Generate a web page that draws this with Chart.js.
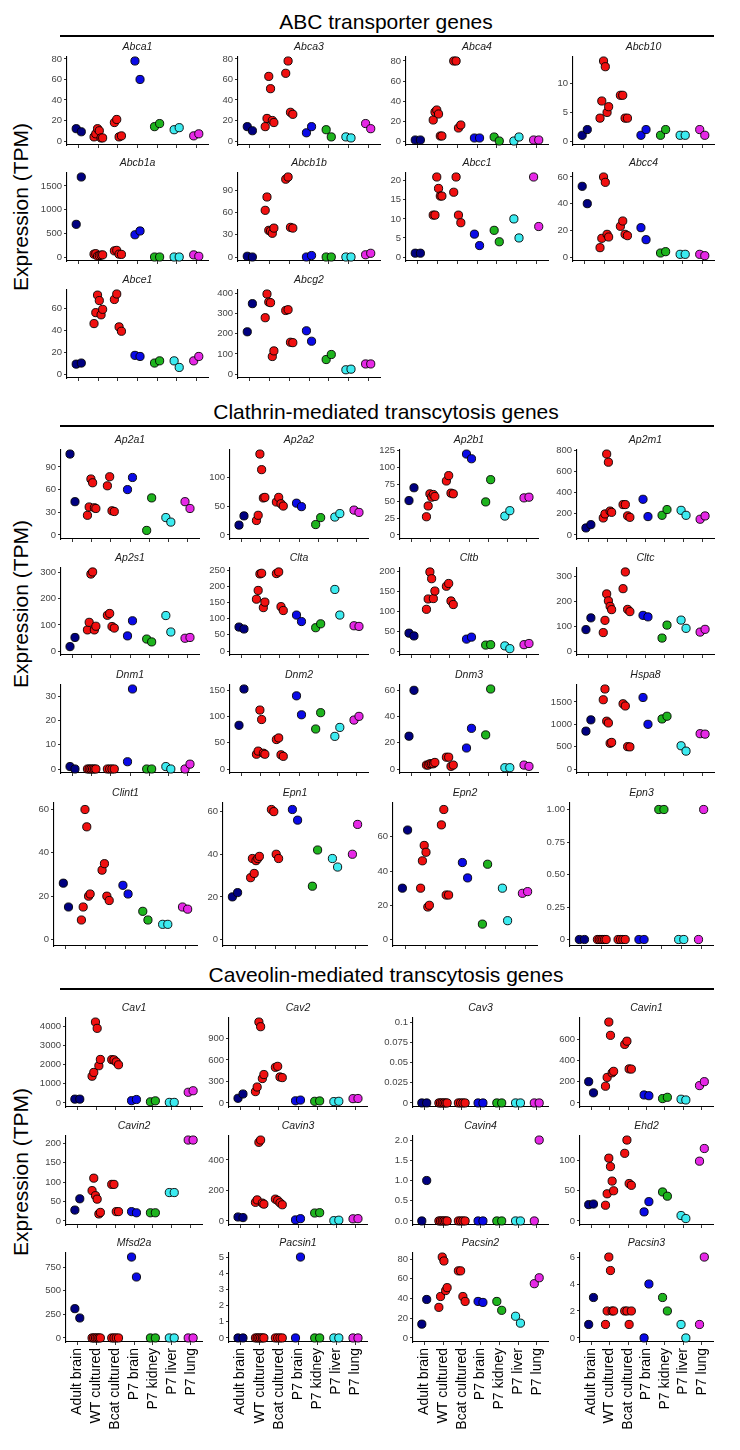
<!DOCTYPE html>
<html>
<head>
<meta charset="utf-8">
<script src="https://cdn.jsdelivr.net/npm/chart.js"></script>
<style>
  body { margin: 0; background: #fff; }
  #page { position: relative; width: 740px; height: 1450px; overflow: hidden; background: #fff;
          font-family: 'Liberation Sans', Arial, sans-serif; color: #000; }
  .sec-title { position: absolute; left: 86px; width: 600px; text-align: center; font-size: 21px; line-height: 24px; }
  .sec-line { position: absolute; left: 60px; width: 654px; height: 2px; background: #000; }
  .ylab { position: absolute; width: 240px; text-align: center; font-size: 21px; line-height: 24px; transform: rotate(-90deg); }
  canvas { position: absolute; }
</style>
</head>
<body>
<div id="page"></div>

<script>
	const groups = ['Adult brain', 'WT cultured', 'Bcat cultured', 'P7 brain', 'P7 kidney', 'P7 liver', 'P7 lung']
	const groupColors = ['#000080', '#F01010', '#F01010', '#0A0AE6', '#1EB41E', '#3CEBF0', '#E628E6']

	// ABC transporter genes (TPM per sample, grouped as in `groups`)
	const abca1 = [[12, 9], [4, 7, 12, 10, 3, 3], [18, 21, 4, 5], [78, 60], [14, 17], [11, 13], [5, 7]]
	const abca3 = [[14, 10], [14, 22, 63, 51, 20, 18], [66, 78, 28, 26], [8, 14], [11, 4], [4, 3], [17, 12]]
	const abca4 = [[1, 1], [21, 29, 31, 27, 5, 5], [80, 80, 13, 16], [3, 3], [4, 0], [0, 4], [1, 1]]
	const abcb10 = [[1, 2], [4, 7, 14, 13, 5, 6], [8, 8, 4, 4], [1, 2], [1, 2], [1, 1], [2, 1]]
	const abcb1a = [[690, 1690], [60, 70, 20, 30, 40, 45], [130, 140, 60, 55], [470, 550], [0, 0], [0, 0], [45, 15]]
	const abcb1b = [[1, 0], [63, 81, 36, 35, 32, 39], [105, 108, 40, 39], [0, 2], [0, 0], [0, 0], [3, 5]]
	const abcc1 = [[1, 1], [11, 11, 21, 18, 16, 16], [17, 21, 11, 9], [6, 3], [7, 4], [10, 5], [21, 8]]
	const abcc4 = [[53, 40], [7, 14, 60, 56, 17, 15], [23, 27, 17, 16], [22, 13], [3, 4], [2, 2], [2, 1]]
	const abce1 = [[9, 10], [46, 56, 72, 67, 54, 59], [68, 73, 43, 39], [17, 16], [10, 12], [12, 6], [12, 16]]
	const abcg2 = [[210, 350], [280, 398, 358, 355, 87, 115], [316, 320, 158, 156], [215, 163], [72, 97], [21, 24], [50, 50]]

	// Clathrin-mediated transcytosis genes
	const ap2a1 = [[107, 44], [26, 37, 74, 69, 36, 35], [65, 77, 32, 31], [60, 76], [6, 49], [23, 17], [44, 35]]
	const ap2a2 = [[17, 33], [25, 34, 140, 113, 64, 65], [57, 65, 54, 50], [55, 49], [18, 30], [31, 37], [43, 39]]
	const ap2b1 = [[51, 70], [27, 43, 61, 56, 60, 57], [80, 88, 62, 61], [120, 113], [49, 82], [28, 36], [55, 56]]
	const ap2m1 = [[66, 97], [160, 198, 762, 685, 225, 213], [286, 286, 180, 166], [336, 173], [185, 239], [232, 185], [148, 179]]
	const ap2s1 = [[17, 52], [81, 110, 295, 303, 81, 95], [137, 144, 94, 88], [58, 116], [46, 35], [136, 73], [49, 52]]
	const clta = [[74, 68], [160, 187, 238, 240, 134, 151], [239, 244, 137, 125], [111, 91], [72, 84], [190, 111], [78, 76]]
	const cltb = [[45, 38], [105, 131, 199, 182, 132, 151], [163, 170, 126, 117], [30, 35], [15, 16], [13, 6], [16, 19]]
	const cltc = [[86, 133], [74, 123, 229, 201, 179, 166], [250, 317, 167, 158], [143, 137], [52, 104], [124, 91], [76, 87]]
	const dnm1 = [[1, 0], [0, 0, 0, 0, 0, 0], [0, 0, 0, 0], [3, 33], [0, 0], [1, 0], [0, 2]]
	const dnm2 = [[83, 152], [28, 34, 112, 94, 30, 28], [56, 59, 27, 24], [139, 103], [76, 107], [62, 79], [93, 100]]
	const dnm3 = [[25, 60], [3, 3, 4, 4, 4, 5], [9, 9, 2, 3], [16, 31], [26, 61], [1, 1], [3, 2]]
	const hspa8 = [[847, 1100], [1550, 1790, 1070, 1030, 575, 595], [1460, 1410, 500, 495], [1600, 1000], [1120, 1180], [520, 400], [790, 780]]
	const clint1 = [[26, 15], [9, 15, 60, 52, 20, 21], [32, 35, 20, 18], [25, 21], [13, 9], [7, 7], [15, 14]]
	const epn1 = [[20, 22], [29, 38, 31, 37, 38, 39], [61, 60, 40, 38], [61, 56], [25, 42], [38, 34], [40, 54]]
	const epn2 = [[30, 64], [30, 46, 55, 51, 19, 20], [67, 76, 26, 26], [45, 36], [9, 44], [30, 11], [27, 28]]
	const epn3 = [[0, 0], [0, 0, 0, 0, 0, 0], [0, 0, 0, 0], [0, 0], [1, 1], [0, 0], [0, 1]]

	// Caveolin-mediated transcytosis genes
	const cav1 = [[200, 200], [1400, 1600, 4240, 3910, 1950, 2280], [2270, 2260, 2150, 2000], [120, 180], [60, 110], [30, 30], [560, 640]]
	const cav2 = [[65, 125], [158, 222, 1127, 1062, 340, 396], [496, 510, 362, 353], [30, 40], [23, 28], [19, 23], [60, 62]]
	const cav3 = [[0, 0], [0, 0, 0, 0, 0, 0], [0, 0, 0, 0], [0, 0], [0, 0], [0, 0], [0, 0]]
	const cavin1 = [[200, 95], [157, 240, 760, 635, 283, 297], [550, 580, 320, 318], [75, 68], [41, 53], [35, 28], [163, 200]]
	const cavin2 = [[28, 57], [78, 110, 65, 56, 18, 22], [94, 94, 24, 24], [24, 21], [21, 21], [73, 73], [208, 208]]
	const cavin3 = [[26, 22], [122, 138, 515, 530, 117, 110], [143, 134, 119, 106], [7, 15], [52, 54], [2, 5], [14, 15]]
	const cavin4 = [[0, 1], [0, 0, 0, 0, 0, 0], [0, 0, 0, 0], [0, 0], [0, 0], [0, 0], [0, 2]]
	const ehd2 = [[27, 28], [26, 45, 104, 90, 66, 50], [112, 134, 62, 59], [15, 32], [48, 41], [9, 4], [99, 120]]
	const mfsd2a = [[311, 212], [0, 0, 0, 0, 0, 0], [0, 0, 0, 0], [859, 647], [0, 0], [0, 0], [0, 0]]
	const pacsin1 = [[0, 0], [0, 0, 0, 0, 0, 0], [0, 0, 0, 0], [0, 5], [0, 0], [0, 0], [0, 0]]
	const pacsin2 = [[14, 39], [31, 42, 82, 78, 48, 51], [68, 68, 42, 37], [37, 36], [37, 28], [22, 15], [55, 61]]
	const pacsin3 = [[1, 3], [1, 2, 6, 5, 2, 2], [2, 2, 1, 2], [0, 4], [3, 2], [1, 0], [1, 6]]

	// y tick labels per panel
	const abca1Ticks = ['0', '20', '40', '60', '80']
	const abca3Ticks = ['0', '20', '40', '60', '80']
	const abca4Ticks = ['0', '20', '40', '60', '80']
	const abcb10Ticks = ['0', '5', '10']
	const abcb1aTicks = ['0', '500', '1000', '1500']
	const abcb1bTicks = ['0', '30', '60', '90']
	const abcc1Ticks = ['0', '5', '10', '15', '20']
	const abcc4Ticks = ['0', '20', '40', '60']
	const abce1Ticks = ['0', '20', '40', '60']
	const abcg2Ticks = ['0', '100', '200', '300', '400']
	const ap2a1Ticks = ['0', '30', '60', '90']
	const ap2a2Ticks = ['0', '50', '100']
	const ap2b1Ticks = ['0', '25', '50', '75', '100', '125']
	const ap2m1Ticks = ['0', '200', '400', '600', '800']
	const ap2s1Ticks = ['0', '100', '200', '300']
	const cltaTicks = ['0', '50', '100', '150', '200', '250']
	const cltbTicks = ['0', '50', '100', '150', '200']
	const cltcTicks = ['0', '100', '200', '300']
	const dnm1Ticks = ['0', '10', '20', '30']
	const dnm2Ticks = ['0', '50', '100', '150']
	const dnm3Ticks = ['0', '20', '40', '60']
	const hspa8Ticks = ['0', '500', '1000', '1500']
	const clint1Ticks = ['0', '20', '40', '60']
	const epn1Ticks = ['0', '20', '40', '60']
	const epn2Ticks = ['0', '20', '40', '60']
	const epn3Ticks = ['0', '0.25', '0.50', '0.75', '1.00']
	const cav1Ticks = ['0', '1000', '2000', '3000', '4000']
	const cav2Ticks = ['0', '300', '600', '900']
	const cav3Ticks = ['0', '0.025', '0.05', '0.075', '0.1']
	const cavin1Ticks = ['0', '200', '400', '600']
	const cavin2Ticks = ['0', '50', '100', '150', '200']
	const cavin3Ticks = ['0', '200', '400']
	const cavin4Ticks = ['0.0', '0.5', '1.0', '1.5', '2.0']
	const ehd2Ticks = ['0', '50', '100']
	const mfsd2aTicks = ['0', '250', '500', '750']
	const pacsin1Ticks = ['0', '1', '2', '3', '4', '5']
	const pacsin2Ticks = ['0', '20', '40', '60', '80']
	const pacsin3Ticks = ['0', '2', '4', '6']

	const sections = [
		{
			title: 'ABC transporter genes', titleY: 21.7, lineY: 35, labelY: 207,
			genes: [['Abca1', abca1, abca1Ticks], ['Abca3', abca3, abca3Ticks], ['Abca4', abca4, abca4Ticks], ['Abcb10', abcb10, abcb10Ticks],
				['Abcb1a', abcb1a, abcb1aTicks], ['Abcb1b', abcb1b, abcb1bTicks], ['Abcc1', abcc1, abcc1Ticks], ['Abcc4', abcc4, abcc4Ticks],
				['Abce1', abce1, abce1Ticks], ['Abcg2', abcg2, abcg2Ticks]],
			rowTop: [56.7, 172.7, 290], rowBottom: [144.3, 260.7, 377.7],
			colLeft: [[66.7, 238, 406, 572.7], [66.7, 238, 406, 572.7], [66.7, 238, 406, 572.7]],
			colRight: [[207.3, 380, 547.7, 713.3], [207.3, 380, 547.7, 713.3], [207.3, 380, 547.7, 713.3]],
			labelRow: -1
		},
		{
			title: 'Clathrin-mediated transcytosis genes', titleY: 411.7, lineY: 424.5, labelY: 604,
			genes: [['Ap2a1', ap2a1, ap2a1Ticks], ['Ap2a2', ap2a2, ap2a2Ticks], ['Ap2b1', ap2b1, ap2b1Ticks], ['Ap2m1', ap2m1, ap2m1Ticks],
				['Ap2s1', ap2s1, ap2s1Ticks], ['Clta', clta, cltaTicks], ['Cltb', cltb, cltbTicks], ['Cltc', cltc, cltcTicks],
				['Dnm1', dnm1, dnm1Ticks], ['Dnm2', dnm2, dnm2Ticks], ['Dnm3', dnm3, dnm3Ticks], ['Hspa8', hspa8, hspa8Ticks],
				['Clint1', clint1, clint1Ticks], ['Epn1', epn1, epn1Ticks], ['Epn2', epn2, epn2Ticks], ['Epn3', epn3, epn3Ticks]],
			rowTop: [450, 568.3, 685, 803.3], rowBottom: [539, 655.7, 773.3, 946.7],
			colLeft: [[60.7, 230, 400, 576.7], [60.7, 230, 400, 576.7], [60.7, 230, 400, 576.7], [54, 222.7, 392.7, 570]],
			colRight: [[199, 368.3, 538.3, 713.3], [199, 368.3, 538.3, 713.3], [199, 368.3, 538.3, 713.3], [197.3, 366.7, 536.7, 713.3]],
			labelRow: -1
		},
		{
			title: 'Caveolin-mediated transcytosis genes', titleY: 975, lineY: 987.5, labelY: 1172,
			genes: [['Cav1', cav1, cav1Ticks], ['Cav2', cav2, cav2Ticks], ['Cav3', cav3, cav3Ticks], ['Cavin1', cavin1, cavin1Ticks],
				['Cavin2', cavin2, cavin2Ticks], ['Cavin3', cavin3, cavin3Ticks], ['Cavin4', cavin4, cavin4Ticks], ['Ehd2', ehd2, ehd2Ticks],
				['Mfsd2a', mfsd2a, mfsd2aTicks], ['Pacsin1', pacsin1, pacsin1Ticks], ['Pacsin2', pacsin2, pacsin2Ticks], ['Pacsin3', pacsin3, pacsin3Ticks]],
			rowTop: [1018.3, 1135.5, 1252.5], rowBottom: [1107.3, 1224.5, 1341.7],
			colLeft: [[66.3, 229, 413.3, 580], [66.3, 229, 413.3, 580], [66.3, 229, 413.3, 580]],
			colRight: [[202, 367, 548.3, 713.3], [202, 367, 548.3, 713.3], [202, 367, 548.3, 713.3]],
			labelRow: 2
		}
	]

	const fontFamily = "'Liberation Sans', Arial, sans-serif"
	// horizontal spread of the points inside each group, by group size
	const jitter = { 2: [-0.13, 0.13], 4: [-0.18, -0.06, 0.06, 0.18], 6: [-0.22, -0.13, -0.04, 0.05, 0.14, 0.22] }
	const YW = 44, TOP = 18, PADR = 8
	const page = document.getElementById('page')

	function addText(cls, text, css) {
		const d = document.createElement('div')
		d.className = cls
		d.textContent = text
		d.style.cssText = css
		page.appendChild(d)
	}

	function panel(gene, values, tickLabels, L, T, R, B, showLabels) {
		const XH = showLabels ? 108 : 6
		const w = Math.round(R - L + YW + PADR)
		const h = Math.round(B - T + TOP + XH)
		const canvas = document.createElement('canvas')
		canvas.width = w
		canvas.height = h
		canvas.style.left = (L - YW) + 'px'
		canvas.style.top = (T - TOP) + 'px'
		canvas.style.width = w + 'px'
		canvas.style.height = h + 'px'
		page.appendChild(canvas)

		const mx = Math.max(...values.flat()) || 0.1
		const lo = -0.05 * mx, hi = 1.05 * mx
		const axisGrid = { drawOnChartArea: false, drawTicks: true, tickLength: 3, color: '#333', lineWidth: 1 }
		const axisBorder = { display: true, color: '#000', width: 1.1 }

		new Chart(canvas, {
			type: 'scatter',
			data: {
				datasets: groups.map((g, gi) => ({
					label: g,
					data: values[gi].map((v, k) => ({ x: gi + 1 + jitter[values[gi].length][k], y: v })),
					backgroundColor: groupColors[gi],
					borderColor: '#000',
					borderWidth: 0.9,
					pointRadius: 4.1,
					pointHoverRadius: 4.1,
					clip: false
				}))
			},
			options: {
				responsive: false,
				animation: false,
				devicePixelRatio: 1,
				events: [],
				layout: { padding: { top: 0, left: 0, right: PADR, bottom: 0 } },
				plugins: {
					legend: { display: false },
					tooltip: { enabled: false },
					title: {
						display: true, text: gene, fullSize: false, color: '#1a1a1a',
						font: { family: fontFamily, size: 10.5, style: 'italic', weight: 'normal' },
						padding: { top: 1.7, bottom: 3.7 }
					}
				},
				scales: {
					x: {
						type: 'linear', min: 0.4, max: 7.6,
						afterBuildTicks: s => { s.ticks = groups.map((g, i) => ({ value: i + 1 })) },
						afterFit: s => { s.height = XH; s.paddingLeft = 0; s.paddingRight = 0 },
						ticks: {
							display: showLabels, autoSkip: false, minRotation: 90, maxRotation: 90, padding: 3,
							color: '#000', font: { family: fontFamily, size: 14 },
							callback: v => groups[Math.round(v) - 1]
						},
						grid: axisGrid,
						border: axisBorder
					},
					y: {
						min: lo, max: hi,
						afterBuildTicks: s => {
							s.ticks = tickLabels.map(Number).filter(v => v >= lo && v <= hi).map(v => ({ value: v }))
						},
						afterFit: s => { s.width = YW; s.paddingTop = 0; s.paddingBottom = 0 },
						ticks: {
							autoSkip: false, padding: 2, color: '#444',
							font: { family: fontFamily, size: 9.5 },
							callback: v => tickLabels.find(t => Number(t) === v)
						},
						grid: axisGrid,
						border: axisBorder
					}
				}
			}
		})
	}

	sections.forEach(sec => {
		addText('sec-title', sec.title, `top:${sec.titleY - 12}px`)
		addText('sec-line', '', `top:${sec.lineY}px`)
		addText('ylab', 'Expression (TPM)', `left:${21 - 120}px;top:${sec.labelY - 12}px`)
		sec.genes.forEach(([gene, values, ticks], i) => {
			const r = Math.floor(i / 4), c = i % 4
			panel(gene, values, ticks, sec.colLeft[r][c], sec.rowTop[r], sec.colRight[r][c], sec.rowBottom[r], r === sec.labelRow)
		})
	})
</script>
</body>
</html>
